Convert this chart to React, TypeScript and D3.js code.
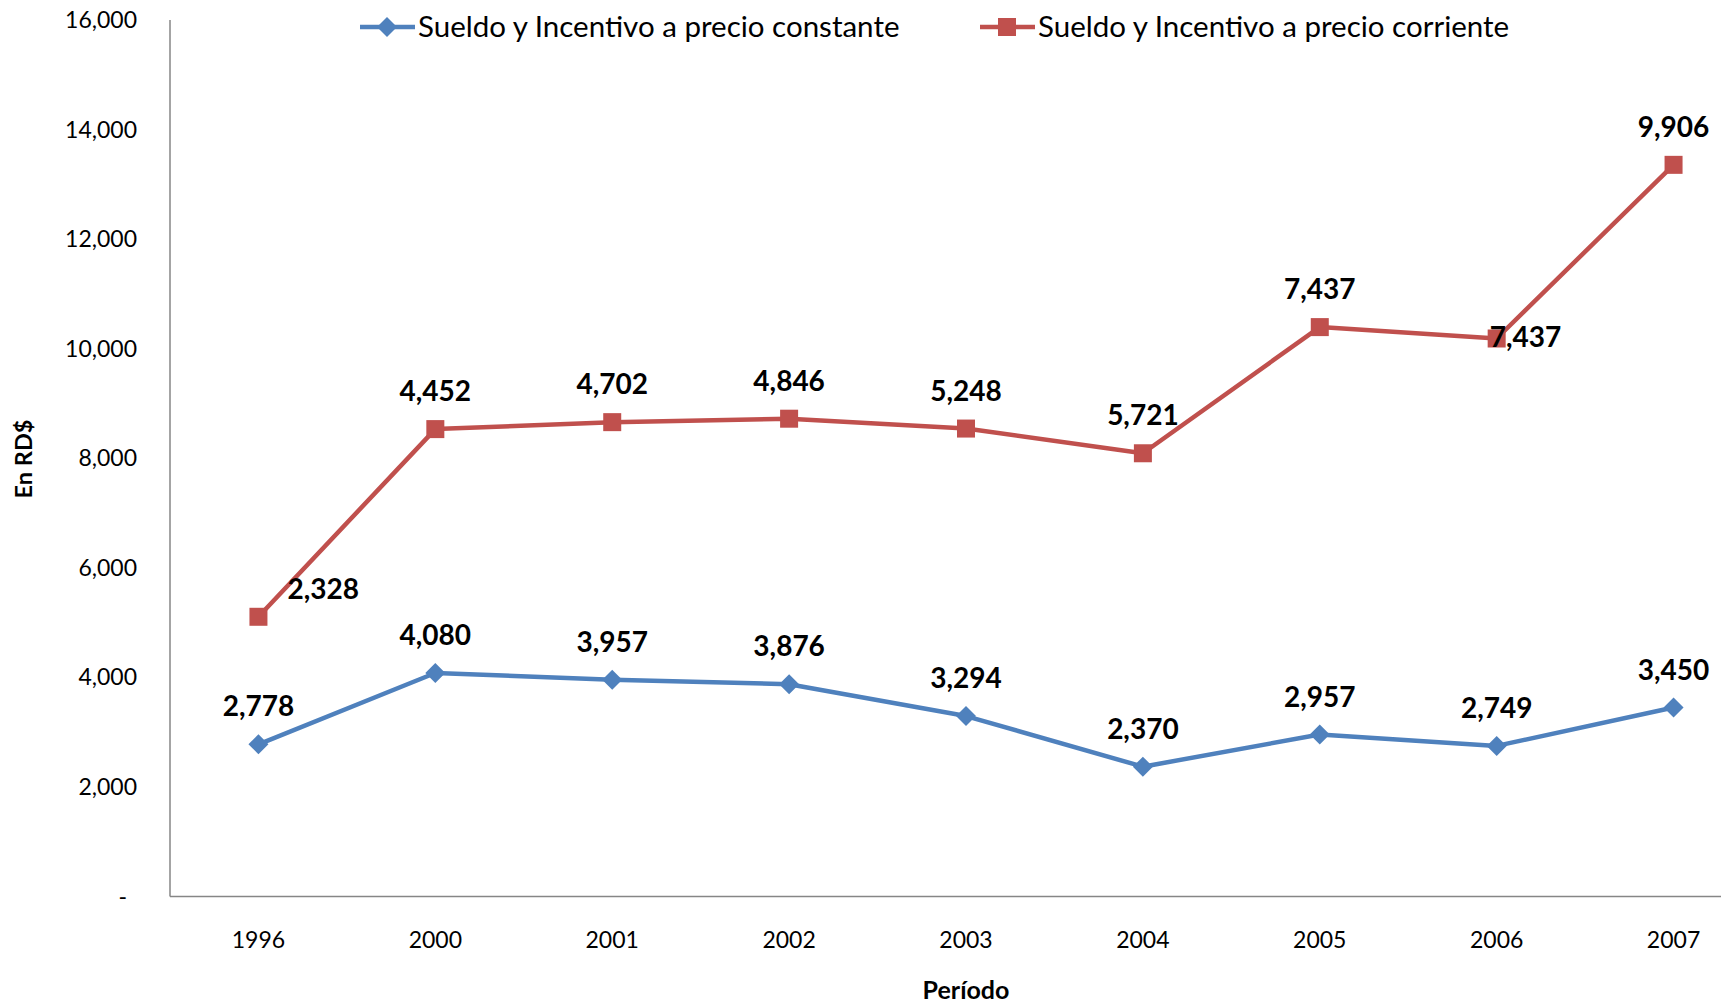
import React from "react";
import * as d3 from "d3";

const periods = ["1996", "2000", "2001", "2002", "2003", "2004", "2005", "2006", "2007"];
const constante = [2778, 4080, 3957, 3876, 3294, 2370, 2957, 2749, 3450];
const corriente = [2328, 4452, 4702, 4846, 5248, 5721, 7437, 7437, 9906];
const yTicks = [0, 2000, 4000, 6000, 8000, 10000, 12000, 14000, 16000];
const seriesNames = ["Sueldo y Incentivo a precio constante", "Sueldo y Incentivo a precio corriente"];

const W = 1721;
const H = 1005;
const BLUE = "#4F81BD";
const RED = "#C0504D";
const FONT = "Lato, 'Open Sans', sans-serif";

export default function App() {
  const x = d3.scaleBand<string>().domain(periods).range([170, 1762]);
  const y = d3.scaleLinear().domain([0, 16000]).range([896.5, 20]);
  const cx = (p: string) => (x(p) as number) + x.bandwidth() / 2;

  const stacked = corriente.map((v, i) => v + constante[i]);
  const line = d3
    .line<number>()
    .x((_, i) => cx(periods[i]))
    .y((v) => y(v));

  const fmt = d3.format(",");
  const diamondPath = "M0,-10L10,0L0,10L-10,0Z";

  // label offsets for current-price series (exceptions to "above")
  const redOffsets: Record<string, [number, number, string]> = {
    "1996": [29, -18, "start"],
    "2006": [-7, 9, "start"],
  };

  return (
    <div style={{ position: "absolute", left: 0, top: 0 }}>
      <svg width={W} height={H} style={{ display: "block", background: "#fff" }} fontFamily={FONT}>
        {/* axes */}
        <line x1={170} x2={1762} y1={y(0)} y2={y(0)} stroke="#868686" strokeWidth={1.5} />
        <line x1={170} x2={170} y1={y(16000)} y2={y(0)} stroke="#868686" strokeWidth={1.5} />

        {yTicks.map((t) => (
          <text
            key={t}
            x={t === 0 ? 127 : 137}
            y={y(t)}
            dy="0.35em"
            textAnchor="end"
            fontSize={23}
            fill="#000"
          >
            {t === 0 ? "-" : fmt(t)}
          </text>
        ))}

        {periods.map((p) => (
          <text key={p} x={cx(p)} y={948} textAnchor="middle" fontSize={23} fill="#000">
            {p}
          </text>
        ))}

        <text x={966} y={999} textAnchor="middle" fontSize={25} fontWeight="bold" fill="#000">
          Período
        </text>
        <text
          transform="translate(32,459) rotate(-90)"
          textAnchor="middle"
          fontSize={23.5}
          fontWeight="bold"
          fill="#000"
        >
          En RD$
        </text>

        {/* lines */}
        <path d={line(constante) || ""} fill="none" stroke={BLUE} strokeWidth={4.5} strokeLinejoin="round" />
        <path d={line(stacked) || ""} fill="none" stroke={RED} strokeWidth={4.5} strokeLinejoin="round" />

        {constante.map((v, i) => (
          <path key={"d" + i} d={diamondPath} transform={`translate(${cx(periods[i])},${y(v)})`} fill={BLUE} />
        ))}
        {stacked.map((v, i) => (
          <rect
            key={"s" + i}
            x={cx(periods[i]) - 9}
            y={y(v) - 9}
            width={18}
            height={18}
            fill={RED}
          />
        ))}

        {/* data labels */}
        {constante.map((v, i) => (
          <text
            key={"lb" + i}
            x={cx(periods[i])}
            y={y(v) - 28}
            textAnchor="middle"
            fontSize={28}
            fontWeight="bold"
            fill="#000"
          >
            {fmt(v)}
          </text>
        ))}
        {corriente.map((v, i) => {
          const off = redOffsets[periods[i]] || [0, -28, "middle"];
          return (
            <text
              key={"lr" + i}
              x={cx(periods[i]) + off[0]}
              y={y(stacked[i]) + off[1]}
              textAnchor={off[2] as any}
              fontSize={28}
              fontWeight="bold"
              fill="#000"
            >
              {fmt(v)}
            </text>
          );
        })}

        {/* legend */}
        <g transform="translate(360,27)">
          <line x1={0} x2={55} y1={0} y2={0} stroke={BLUE} strokeWidth={4.5} />
          <path d={diamondPath} transform="translate(27,0)" fill={BLUE} />
          <text x={58} y={0} dy="0.35em" fontSize={29.5} fill="#000">
            {seriesNames[0]}
          </text>
        </g>
        <g transform="translate(980,27)">
          <line x1={0} x2={55} y1={0} y2={0} stroke={RED} strokeWidth={4.5} />
          <rect x={27 - 9} y={-9} width={18} height={18} fill={RED} />
          <text x={58} y={0} dy="0.35em" fontSize={29.5} fill="#000">
            {seriesNames[1]}
          </text>
        </g>
      </svg>
    </div>
  );
}
